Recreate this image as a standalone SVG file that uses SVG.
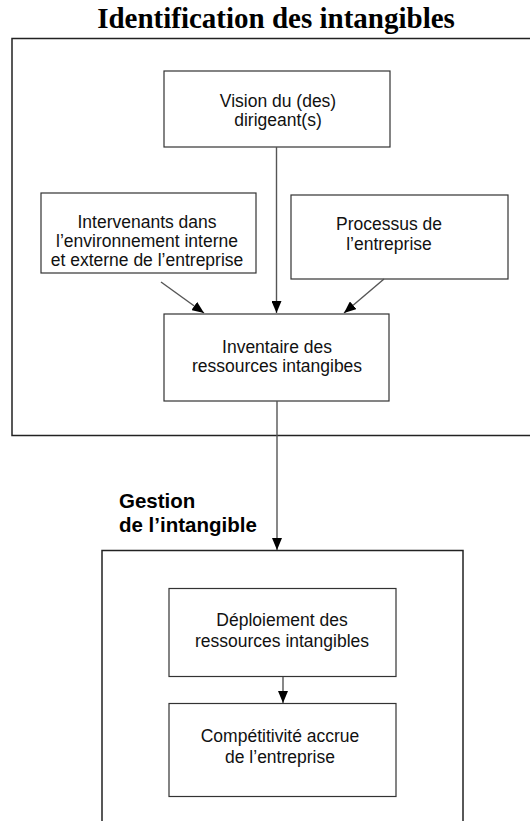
<svg xmlns="http://www.w3.org/2000/svg" width="530" height="821" viewBox="0 0 530 821">
<style>
.box{fill:#fff;stroke:#333;stroke-width:1.2}
.frame{fill:none;stroke:#222;stroke-width:1.5}
.t{font-family:"Liberation Sans",Arial,sans-serif;font-size:17.5px;fill:#111;text-anchor:middle}
.title{font-family:"Liberation Serif","Times New Roman",serif;font-size:29px;font-weight:bold;fill:#000;text-anchor:middle}
.lbl{font-family:"Liberation Sans",Arial,sans-serif;font-size:20.5px;font-weight:bold;fill:#000}
.c{stroke:#555;stroke-width:1.4;fill:none;marker-end:url(#ah)}
</style>
<defs>
<marker id="ah" viewBox="0 0 12 10" refX="12" refY="5" markerWidth="12" markerHeight="10" markerUnits="userSpaceOnUse" orient="auto">
<path d="M0,0 L12,5 L0,10 Z" fill="#000"/>
</marker>
</defs>
<rect width="530" height="821" fill="#fff"/>
<g id="title"><text class="title" x="276" y="28">Identification des intangibles</text></g>
<g id="frame-identification"><rect class="frame" x="12" y="38.5" width="530" height="397"/></g>
<g id="label-gestion"><text class="lbl" x="119" y="508">Gestion</text><text class="lbl" x="119" y="532">de l’intangible</text></g>
<g id="frame-gestion"><rect class="frame" x="102" y="550.5" width="361" height="290"/></g>
<g id="vision"><rect class="box" x="164" y="71" width="226" height="76"/><text class="t" x="278" y="107">Vision du (des)</text><text class="t" x="278" y="126">dirigeant(s)</text></g>
<g id="intervenants"><rect class="box" x="41" y="193" width="215" height="80"/><text class="t" x="147" y="228">Intervenants dans</text><text class="t" x="147" y="247">l’environnement interne</text><text class="t" x="147" y="266">et externe de l’entreprise</text></g>
<g id="processus"><rect class="box" x="291" y="195" width="217" height="84"/><text class="t" x="389" y="230">Processus de</text><text class="t" x="389" y="250">l’entreprise</text></g>
<g id="inventaire"><rect class="box" x="164" y="314" width="225" height="87"/><text class="t" x="277" y="353">Inventaire des</text><text class="t" x="277" y="372">ressources intangibes</text></g>
<g id="deploiement"><rect class="box" x="169" y="588.5" width="227" height="88"/><text class="t" x="282" y="626">Déploiement des</text><text class="t" x="282" y="647">ressources intangibles</text></g>
<g id="competitivite"><rect class="box" x="169" y="703.5" width="227" height="93"/><text class="t" x="280" y="742">Compétitivité accrue</text><text class="t" x="280" y="763">de l’entreprise</text></g>
<g id="connectors">
<line class="c" x1="276.5" y1="147" x2="276.5" y2="313"/>
<line class="c" x1="161" y1="282" x2="204" y2="313"/>
<line class="c" x1="384" y1="279" x2="344" y2="313"/>
<line class="c" x1="277" y1="401" x2="277" y2="550"/>
<line class="c" x1="283" y1="677" x2="283" y2="703"/>
</g>
</svg>
